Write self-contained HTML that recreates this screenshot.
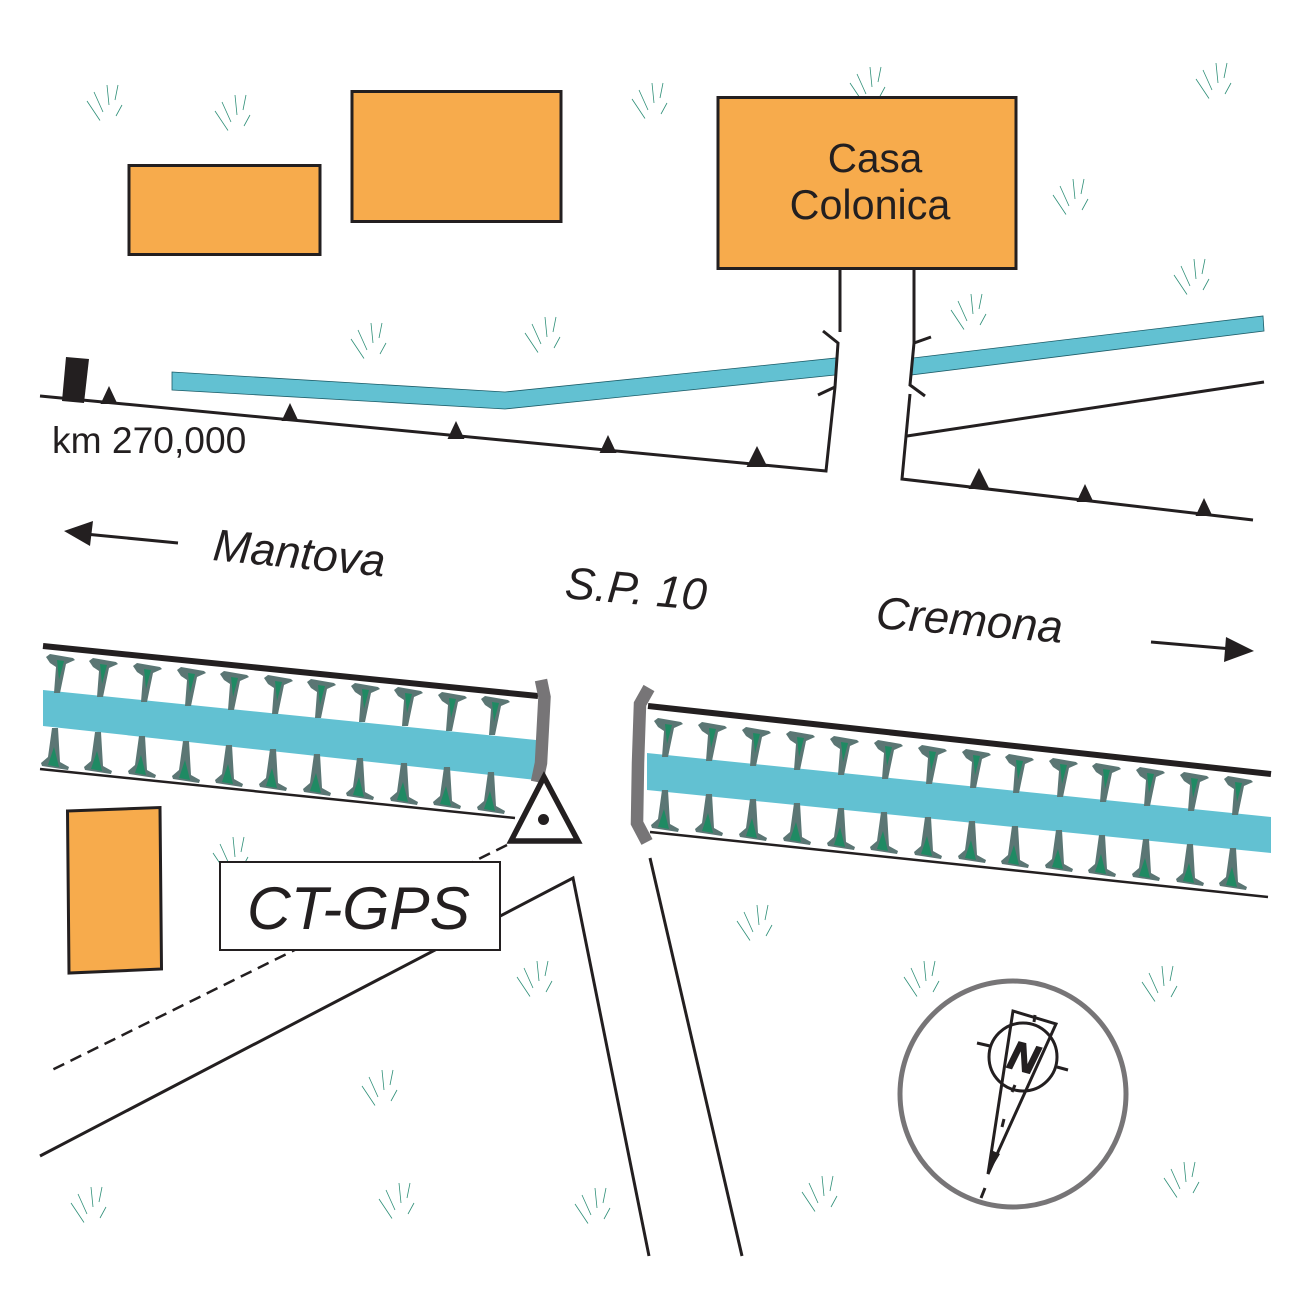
<!DOCTYPE html>
<html><head><meta charset="utf-8"><style>html,body{margin:0;padding:0;background:#fff}svg{display:block}text{font-family:"Liberation Sans",sans-serif;fill:#231f20}</style></head><body>
<svg width="1301" height="1300" viewBox="0 0 1301 1300" xmlns="http://www.w3.org/2000/svg">
<defs>
<g id="g" stroke="#2f8f78" stroke-width="0.800" fill="none"><path d="M-16-2L-3 17.500M-9-11L0 9M4-18L6 2M15-18L12-3M19 2L13 13"/></g>
<g id="t"><path d="M-14-3L-10-6L13-2L15 0L6 4L0 33L-6 33L-4 7L-10 3Z" fill="#5b7674"/><path d="M-3 0L4 1L-1 20Z" fill="#1f8a63"/></g>
<g id="b"><path d="M3-35L-3-35L-7-6L-14 0L-13 3L13 7L14 4L5-1Z" fill="#5b7674"/><path d="M-1-16L-7 2L4 4Z" fill="#1f8a63"/></g>
<path id="h" d="M0-18L8.500 0L-8.500 0Z" fill="#231f20"/>
<path id="H" d="M0-21L10.500 0L-10.500 0Z" fill="#231f20"/>
</defs>
<g>
<use href="#g" x="103" y="103"/><use href="#g" x="231" y="113"/><use href="#g" x="648" y="101"/><use href="#g" x="866" y="85"/><use href="#g" x="1212" y="81"/><use href="#g" x="1069" y="197"/><use href="#g" x="1190" y="277"/><use href="#g" x="967" y="312"/><use href="#g" x="367" y="341"/><use href="#g" x="541" y="335"/><use href="#g" x="753" y="923"/><use href="#g" x="533" y="979"/><use href="#g" x="920" y="979"/><use href="#g" x="1158" y="984"/><use href="#g" x="378" y="1088"/><use href="#g" x="1180" y="1180"/><use href="#g" x="87" y="1205"/><use href="#g" x="395" y="1201"/><use href="#g" x="591" y="1206"/><use href="#g" x="818" y="1194"/><use href="#g" x="229" y="855"/>
</g>
<g fill="#f7ab4c" stroke="#231f20" stroke-width="3">
<rect x="129" y="165.500" width="191" height="89"/>
<rect x="352" y="91.500" width="209" height="130"/>
<rect x="718" y="97.500" width="298" height="171"/>
<path d="M67.500 811L160 807.500L161.500 969L69 973Z"/>
</g>
<text x="875" y="172" font-size="40.500" text-anchor="middle">Casa</text>
<text x="870" y="219" font-size="41.300" text-anchor="middle">Colonica</text>

<path d="M172 372L505 392L836 358L835 375L505 409L172 390Z" fill="#62c1d2" stroke="#1c5c68" stroke-width="0.800"/>
<path d="M913 358L1263 316L1264 331L911 375Z" fill="#62c1d2" stroke="#1c5c68" stroke-width="0.800"/>
<g fill="none" stroke="#231f20" stroke-width="3">
<path d="M40 396L826 471L835 387L838 343L823 331"/>
<path d="M835 387L818 395"/>
<path d="M840 268V332"/>
<path d="M914 268V343L931 337"/>
<path d="M914 343L910 385L925 396"/>
<path d="M910 394L902 479L1253 520"/>
<path d="M907 436L1264 382"/>
</g>
<path d="M66 357L89 359L84 403L62 401Z" fill="#231f20"/>
<use href="#h" x="109" y="404"/><use href="#h" x="290" y="421"/><use href="#h" x="456" y="439"/><use href="#h" x="608" y="453"/><use href="#H" x="757" y="467"/><use href="#H" x="979" y="489"/><use href="#h" x="1085" y="502"/><use href="#h" x="1204" y="516"/>
<text x="52" y="453" font-size="37.200" fill="#231f20">km 270,000</text>

<g fill="none" stroke="#231f20" stroke-width="3"><path d="M178 543L85 534"/><path d="M1151 642L1232 649"/></g>
<path d="M64 531L93 521L90 546Z" fill="#231f20"/>
<path d="M1254 651L1226 637L1224 662Z" fill="#231f20"/>
<text transform="translate(212 560) rotate(5.500)" font-size="45" font-style="italic">Mantova</text>
<text transform="translate(564 598) rotate(5)" font-size="45" font-style="italic">S.P. 10</text>
<text transform="translate(875 628) rotate(4.500)" font-size="45.500" font-style="italic">Cremona</text>

<path d="M43 690L536 740V780L43 726Z" fill="#62c1d2"/>
<path d="M647 753L1271 817V853L647 790Z" fill="#62c1d2"/>
<g>
<use href="#t" x="60" y="660"/><use href="#t" x="103" y="664"/><use href="#t" x="147" y="669"/><use href="#t" x="191" y="673"/><use href="#t" x="234" y="677"/><use href="#t" x="278" y="681"/><use href="#t" x="321" y="685"/><use href="#t" x="365" y="689"/><use href="#t" x="408" y="693"/><use href="#t" x="452" y="698"/><use href="#t" x="495" y="702"/>
<use href="#b" x="55" y="763"/><use href="#b" x="98" y="767"/><use href="#b" x="142" y="771"/><use href="#b" x="186" y="776"/><use href="#b" x="229" y="780"/><use href="#b" x="273" y="784"/><use href="#b" x="317" y="789"/><use href="#b" x="360" y="793"/><use href="#b" x="404" y="798"/><use href="#b" x="447" y="802"/><use href="#b" x="491" y="807"/>
<use href="#t" x="668" y="724"/><use href="#t" x="712" y="728"/><use href="#t" x="756" y="733"/><use href="#t" x="800" y="737"/><use href="#t" x="844" y="742"/><use href="#t" x="888" y="746"/><use href="#t" x="932" y="751"/><use href="#t" x="976" y="755"/><use href="#t" x="1019" y="760"/><use href="#t" x="1063" y="764"/><use href="#t" x="1106" y="769"/><use href="#t" x="1150" y="773"/><use href="#t" x="1194" y="778"/><use href="#t" x="1238" y="782"/>
<use href="#b" x="665" y="825"/><use href="#b" x="709" y="829"/><use href="#b" x="753" y="834"/><use href="#b" x="797" y="838"/><use href="#b" x="841" y="843"/><use href="#b" x="884" y="847"/><use href="#b" x="928" y="852"/><use href="#b" x="972" y="856"/><use href="#b" x="1015" y="861"/><use href="#b" x="1059" y="865"/><use href="#b" x="1102" y="870"/><use href="#b" x="1146" y="874"/><use href="#b" x="1190" y="879"/><use href="#b" x="1233" y="883"/>
</g>
<g fill="none" stroke="#231f20">
<path d="M43 646L538 696" stroke-width="6"/>
<path d="M648 706L1271 774" stroke-width="6"/>
<path d="M40 769L515 818" stroke-width="2.500"/>
<path d="M650 832L1268 897" stroke-width="2.500"/>
</g>
<g fill="none" stroke="#777577" stroke-width="12.500">
<path d="M541 680L544.500 697L541 763L537 782"/>
<path d="M649 688L640 704L638 763L637 823L647 842"/>
</g>
<path d="M544 777L511 841H578Z" fill="#fff" stroke="#231f20" stroke-width="5.500"/>
<circle cx="543.500" cy="819.500" r="5.500" fill="#231f20"/>

<path d="M507 845L52 1070" fill="none" stroke="#231f20" stroke-width="2.500" stroke-dasharray="12 7"/>
<g fill="none" stroke="#231f20" stroke-width="3">
<path d="M40 1156L573 878L649 1256"/>
<path d="M650 858L742 1256"/>
</g>
<rect x="220" y="862" width="280" height="88" fill="#fff" stroke="#231f20" stroke-width="2"/>
<text x="247" y="929" font-size="60.500" font-style="italic">CT-GPS</text>

<circle cx="1013" cy="1094" r="113" fill="none" stroke="#777577" stroke-width="5"/>
<g fill="none" stroke="#231f20" stroke-width="3">
<circle cx="1023" cy="1057" r="34"/>
<path d="M1013 1011L1056 1024L988 1174Z"/>
<path d="M977 1043L990 1046M1057 1067L1068 1070M1035 1015L1034 1022M1015 1085L1012 1092"/>
<path d="M1004 1119L1002 1127M985 1188L981 1198"/>
</g>
<path d="M988 1174L991 1150L1000 1154Z" fill="#231f20"/>
<text transform="translate(1006 1067) rotate(15)" font-size="40" font-weight="bold" font-style="italic" stroke="#231f20" stroke-width="1.500">N</text>
</svg>
</body></html>
